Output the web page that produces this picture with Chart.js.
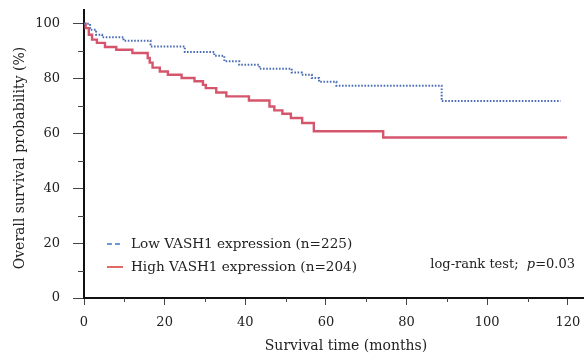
<!DOCTYPE html>
<html>
<head>
<meta charset="utf-8">
<script src="https://cdn.jsdelivr.net/npm/chart.js@4"></script>
<style>
  html, body { margin: 0; padding: 0; background: #fff; }
  #wrap { width: 584px; height: 357px; }
</style>
</head>
<body>
<div id="wrap"><canvas id="kmChart" width="584" height="357"></canvas></div>
<script>
// Kaplan-Meier steps (months, % surviving)
const lowTimes = [0, 1.5, 3, 4.5, 9.8, 16.5, 25, 32.3, 34.8, 38.5, 43.5, 51.5, 54, 56.5, 58.3, 62.6, 88.7, 118.2];
const lowSurv = [100, 97.8, 96, 95.1, 93.8, 91.7, 89.7, 88.3, 86.3, 85, 83.6, 82.2, 81.4, 80.2, 78.8, 77.4, 71.8, 71.8];

const highTimes = [0, 0.4, 1.2, 2.0, 3.2, 5.2, 8.0, 12.0, 15.8, 16.3, 17.0, 18.8, 20.8, 24.2, 27.4, 29.5, 30.2, 32.8, 35.3, 40.9, 46.0, 47.2, 49.2, 51.3, 54.1, 57.0, 74.2, 119.8];
const highSurv = [100, 98.4, 96, 94.2, 93, 91.5, 90.5, 89.3, 87.5, 85.8, 84, 82.6, 81.4, 80.2, 79, 77.7, 76.5, 74.9, 73.5, 72, 69.8, 68.4, 67.2, 65.6, 63.8, 60.8, 58.5, 58.5];

const seriesLabels = ['Low VASH1 expression (n=225)', 'High VASH1 expression (n=204)'];
const xTickLabels = [0, 20, 40, 60, 80, 100, 120];
const yTickLabels = [0, 20, 40, 60, 80, 100];
const xTitle = 'Survival time (months)';
const yTitle = 'Overall survival probability (%)';
const testLabel = 'log-rank test;  ';
const pLabel = 'p';
const pValue = '=0.03';

const FONT = '"DejaVu Serif", "Liberation Serif", serif';
const TEXT = '#222';

const toPoints = (ts, vs) => ts.map((t, i) => ({ x: t, y: vs[i] }));

// short minor ticks + axis titles + legend + test label
const extras = {
  id: 'extras',
  afterDraw(chart) {
    const ctx = chart.ctx;
    const area = chart.chartArea;
    const xs = chart.scales.x, ys = chart.scales.y;
    ctx.save();
    ctx.strokeStyle = '#444';
    ctx.lineWidth = 1;
    xs.ticks.forEach(t => {
      if (t.value % 20 === 0) return;
      const px = Math.round(xs.getPixelForValue(t.value)) + 0.5;
      ctx.beginPath(); ctx.moveTo(px, area.bottom); ctx.lineTo(px, area.bottom + 4); ctx.stroke();
    });
    ys.ticks.forEach(t => {
      if (t.value % 20 === 0) return;
      const py = Math.round(ys.getPixelForValue(t.value)) + 0.5;
      ctx.beginPath(); ctx.moveTo(area.left - 6, py); ctx.lineTo(area.left, py); ctx.stroke();
    });

    ctx.fillStyle = TEXT;
    ctx.textBaseline = 'middle';

    // axis titles
    ctx.font = '14px ' + FONT;
    ctx.textAlign = 'center';
    ctx.fillText(xTitle, 346, 346);
    ctx.save();
    ctx.translate(20, 158);
    ctx.rotate(-Math.PI / 2);
    ctx.fillText(yTitle, 0, 0);
    ctx.restore();

    // legend
    ctx.font = '13.6px ' + FONT;
    ctx.textAlign = 'left';
    chart.data.datasets.forEach((ds, i) => {
      const y = 244 + i * 23;
      ctx.save();
      ctx.strokeStyle = ds.legendColor;
      ctx.lineWidth = 2;
      ctx.setLineDash(ds.borderDash && ds.borderDash.length ? [5, 3] : []);
      ctx.beginPath(); ctx.moveTo(107, y); ctx.lineTo(123, y); ctx.stroke();
      ctx.restore();
      ctx.fillText(ds.label, 131, y);
    });

    // log-rank annotation, right-aligned
    ctx.font = '13px ' + FONT;
    const w1 = ctx.measureText(testLabel).width;
    const w3 = ctx.measureText(pValue).width;
    ctx.font = 'italic 13px ' + FONT;
    const w2 = ctx.measureText(pLabel).width;
    let x = 575 - (w1 + w2 + w3);
    const yy = 265;
    ctx.font = '13px ' + FONT;
    ctx.fillText(testLabel, x, yy); x += w1;
    ctx.font = 'italic 13px ' + FONT;
    ctx.fillText(pLabel, x, yy); x += w2;
    ctx.font = '13px ' + FONT;
    ctx.fillText(pValue, x, yy);
    ctx.restore();
  }
};

const majorOnly = (list) => (ctx) => list.includes(ctx.tick.value) ? '#444' : 'rgba(0,0,0,0)';

new Chart(document.getElementById('kmChart').getContext('2d'), {
  type: 'line',
  data: {
    datasets: [{
      label: seriesLabels[0],
      data: toPoints(lowTimes, lowSurv),
      borderColor: '#4a6db5',
      legendColor: '#6a9bd6',
      borderWidth: 2,
      borderDash: [1.6, 1.6],
      stepped: true,
      pointRadius: 0,
      fill: false
    }, {
      label: seriesLabels[1],
      data: toPoints(highTimes, highSurv),
      borderColor: '#d5566c',
      legendColor: '#e06a66',
      borderWidth: 2.4,
      stepped: true,
      pointRadius: 0,
      fill: false
    }]
  },
  options: {
    responsive: false,
    animation: false,
    devicePixelRatio: 1,
    layout: { padding: { top: 10, right: 0, left: 0, bottom: 0 } },
    plugins: {
      legend: { display: false },
      tooltip: { enabled: false }
    },
    scales: {
      x: {
        type: 'linear',
        min: 0,
        max: 124,
        border: { color: '#111', width: 2 },
        grid: { drawOnChartArea: false, tickLength: 7, color: '#444', tickColor: majorOnly(xTickLabels) },
        ticks: {
          stepSize: 10,
          includeBounds: false,
          autoSkip: false,
          maxRotation: 0,
          padding: 10,
          color: TEXT,
          font: { family: FONT, size: 13 },
          callback: v => xTickLabels.includes(v) ? String(v) : ''
        },
        afterFit: s => { s.height = 59; s.paddingLeft = 0; s.paddingRight = 0; }
      },
      y: {
        type: 'linear',
        min: 0,
        max: 105,
        border: { color: '#111', width: 2 },
        grid: { drawOnChartArea: false, tickLength: 11, color: '#444', tickColor: majorOnly(yTickLabels) },
        ticks: {
          stepSize: 10,
          includeBounds: false,
          autoSkip: false,
          padding: 13,
          color: TEXT,
          font: { family: FONT, size: 13 },
          callback: v => yTickLabels.includes(v) ? String(v) : ''
        },
        afterFit: s => { s.width = 84; s.paddingTop = 0; s.paddingBottom = 0; }
      }
    }
  },
  plugins: [extras]
});
</script>
</body>
</html>
